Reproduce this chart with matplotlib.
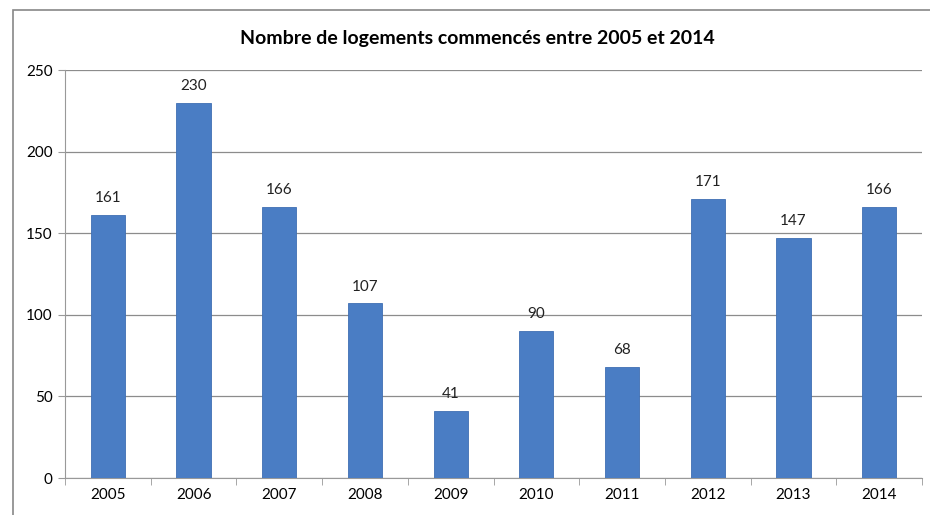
import numpy as np
import matplotlib.pyplot as plt
from matplotlib.patches import Rectangle

# logements commencés par année
annees = ['2005', '2006', '2007', '2008', '2009', '2010', '2011', '2012', '2013', '2014']
logements = [161, 230, 166, 107, 41, 90, 68, 171, 147, 166]

plt.rcParams['font.family'] = ['Lato', 'DejaVu Sans']

fig = plt.figure(figsize=(9.3, 5.15), dpi=100)
ax = fig.add_axes([0.0699, 0.0718, 0.9215, 0.7922])

x = np.arange(len(annees))
bars = ax.bar(x, logements, width=0.4, color='#4a7dc4', edgecolor='#3f6fb3', linewidth=0.6, zorder=3)
for xi, v in zip(x, logements):
    ax.text(xi, v + 6, str(v), ha='center', va='bottom', fontsize=11, color='#222222')

ax.set_xlim(-0.5, len(annees) - 0.5)
ax.set_ylim(0, 250)
ax.set_yticks(range(0, 251, 50))
ax.set_xticks(x)
ax.set_xticklabels(annees)
ax.set_xticks(np.arange(-0.5, len(annees), 1), minor=True)
ax.tick_params(axis='x', which='major', length=0, labelsize=11, pad=7)
ax.tick_params(axis='x', which='minor', length=5, color='#999999')
ax.tick_params(axis='y', length=5, color='#999999', labelsize=11, pad=4)

ax.grid(axis='y', color='#8c8c8c', linewidth=0.9, zorder=0)
for s in ['top', 'right']:
    ax.spines[s].set_visible(False)
ax.spines['left'].set_color('#999999')
ax.spines['bottom'].set_color('#999999')

fig.text(0.513, 0.925, 'Nombre de logements commencés entre 2005 et 2014',
         ha='center', va='center', fontsize=14, fontweight='bold')

# cadre du graphique
fig.patches.append(Rectangle((13 / 930, -0.1), 1.2, 1 - 10 / 515 + 0.1,
                             transform=fig.transFigure, fill=False,
                             edgecolor='#888888', linewidth=1.2))

fig.savefig('out.png', dpi=100)
